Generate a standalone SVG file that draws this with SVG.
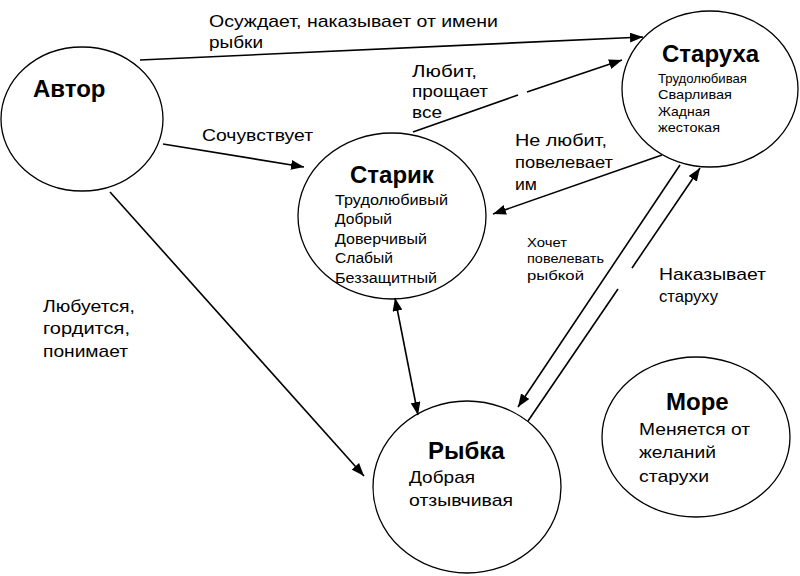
<svg xmlns="http://www.w3.org/2000/svg" width="800" height="576" viewBox="0 0 800 576">
<style>
  .node ellipse { fill: none; stroke: #000; stroke-width: 1.3; }
  .title { font-family: "Liberation Sans", Arial, sans-serif; font-weight: bold; font-size: 24px; fill: #000; }
  .item { font-family: "Liberation Sans", Arial, sans-serif; font-size: 15.5px; fill: #000; }
  .item13 { font-family: "Liberation Sans", Arial, sans-serif; font-size: 13.5px; fill: #000; }
  .lbl { font-family: "Liberation Sans", Arial, sans-serif; font-size: 17px; fill: #000; }
  .lbl12 { font-family: "Liberation Sans", Arial, sans-serif; font-size: 13px; fill: #000; }
  .edge { fill: none; stroke: #000; stroke-width: 1.6; }
</style>
<defs>
  <marker id="arr" markerUnits="userSpaceOnUse" markerWidth="14" markerHeight="10" refX="13" refY="5" orient="auto">
    <path d="M0,0 L13,5 L0,10 Z" fill="#000"/>
  </marker>
  <marker id="arrStart" markerUnits="userSpaceOnUse" markerWidth="14" markerHeight="10" refX="1" refY="5" orient="auto">
    <path d="M14,0 L1,5 L14,10 Z" fill="#000"/>
  </marker>
</defs>
<rect width="800" height="576" fill="#fff"/>

<g id="avtor" class="node">
  <ellipse cx="82" cy="119" rx="81" ry="72"/>
  <text class="title" x="33" y="97">Автор</text>
</g>

<g id="starik" class="node">
  <ellipse cx="392" cy="216" rx="94" ry="83"/>
  <text class="title" x="350" y="183">Старик</text>
  <text class="item" x="335" y="205" textLength="113" lengthAdjust="spacingAndGlyphs">Трудолюбивый</text>
  <text class="item" x="335" y="224" textLength="57" lengthAdjust="spacingAndGlyphs">Добрый</text>
  <text class="item" x="335" y="244" textLength="92" lengthAdjust="spacingAndGlyphs">Доверчивый</text>
  <text class="item" x="335" y="263" textLength="58" lengthAdjust="spacingAndGlyphs">Слабый</text>
  <text class="item" x="335" y="283" textLength="102" lengthAdjust="spacingAndGlyphs">Беззащитный</text>
</g>

<g id="staruha" class="node">
  <ellipse cx="710" cy="89" rx="88" ry="78"/>
  <text class="title" x="662" y="62">Старуха</text>
  <text class="item13" x="658" y="83" textLength="89" lengthAdjust="spacingAndGlyphs">Трудолюбивая</text>
  <text class="item13" x="658" y="99" textLength="74" lengthAdjust="spacingAndGlyphs">Сварливая</text>
  <text class="item13" x="658" y="116" textLength="52" lengthAdjust="spacingAndGlyphs">Жадная</text>
  <text class="item13" x="658" y="132" textLength="62" lengthAdjust="spacingAndGlyphs">жестокая</text>
</g>

<g id="rybka" class="node">
  <ellipse cx="467" cy="487" rx="94" ry="86"/>
  <text class="title" x="428" y="459">Рыбка</text>
  <text class="lbl" x="409" y="483" textLength="66" lengthAdjust="spacingAndGlyphs">Добрая</text>
  <text class="lbl" x="409" y="506" textLength="104" lengthAdjust="spacingAndGlyphs">отзывчивая</text>
</g>

<g id="more" class="node">
  <ellipse cx="696" cy="437" rx="94" ry="80"/>
  <text class="title" x="666" y="410">Море</text>
  <text class="lbl" x="639" y="435" textLength="111" lengthAdjust="spacingAndGlyphs">Меняется от</text>
  <text class="lbl" x="639" y="458" textLength="77" lengthAdjust="spacingAndGlyphs">желаний</text>
  <text class="lbl" x="639" y="482" textLength="70" lengthAdjust="spacingAndGlyphs">старухи</text>
</g>

<g id="connectors">
  <path class="edge" d="M140,60 L643,37" marker-end="url(#arr)"/>
  <path class="edge" d="M163,144 L304,167" marker-end="url(#arr)"/>
  <path class="edge" d="M110,192 L364,476" marker-end="url(#arr)"/>
  <path class="edge" d="M413,132 L518,95"/>
  <path class="edge" d="M527,92 L622,60" marker-end="url(#arr)"/>
  <path class="edge" d="M662,155 L493,214" marker-end="url(#arr)"/>
  <path class="edge" d="M395,298 L418,415" marker-start="url(#arrStart)" marker-end="url(#arr)"/>
  <path class="edge" d="M680,165 L518,407" marker-end="url(#arr)"/>
  <path class="edge" d="M528,421 L618,289"/>
  <path class="edge" d="M632,268 L700,168" marker-end="url(#arr)"/>
</g>

<g id="labels">
  <text class="lbl" x="209" y="27" textLength="289" lengthAdjust="spacingAndGlyphs">Осуждает, наказывает от имени</text>
  <text class="lbl" x="209" y="48" textLength="54" lengthAdjust="spacingAndGlyphs">рыбки</text>
  <text class="lbl" x="202" y="141" textLength="111" lengthAdjust="spacingAndGlyphs">Сочувствует</text>
  <text class="lbl" x="412" y="77" textLength="65" lengthAdjust="spacingAndGlyphs">Любит,</text>
  <text class="lbl" x="412" y="97" textLength="76" lengthAdjust="spacingAndGlyphs">прощает</text>
  <text class="lbl" x="412" y="118" textLength="30" lengthAdjust="spacingAndGlyphs">все</text>
  <text class="lbl" x="515" y="146" textLength="92" lengthAdjust="spacingAndGlyphs">Не любит,</text>
  <text class="lbl" x="515" y="168" textLength="98" lengthAdjust="spacingAndGlyphs">повелевает</text>
  <text class="lbl" x="515" y="190" textLength="22" lengthAdjust="spacingAndGlyphs">им</text>
  <text class="lbl12" x="527" y="247" textLength="40" lengthAdjust="spacingAndGlyphs">Хочет</text>
  <text class="lbl12" x="527" y="263" textLength="77" lengthAdjust="spacingAndGlyphs">повелевать</text>
  <text class="lbl12" x="527" y="280" textLength="57" lengthAdjust="spacingAndGlyphs">рыбкой</text>
  <text class="lbl" x="659" y="280" textLength="107" lengthAdjust="spacingAndGlyphs">Наказывает</text>
  <text class="lbl" x="659" y="302" textLength="59" lengthAdjust="spacingAndGlyphs">старуху</text>
  <text class="lbl" x="43" y="312" textLength="92" lengthAdjust="spacingAndGlyphs">Любуется,</text>
  <text class="lbl" x="43" y="334" textLength="87" lengthAdjust="spacingAndGlyphs">гордится,</text>
  <text class="lbl" x="43" y="357" textLength="85" lengthAdjust="spacingAndGlyphs">понимает</text>
</g>
</svg>
